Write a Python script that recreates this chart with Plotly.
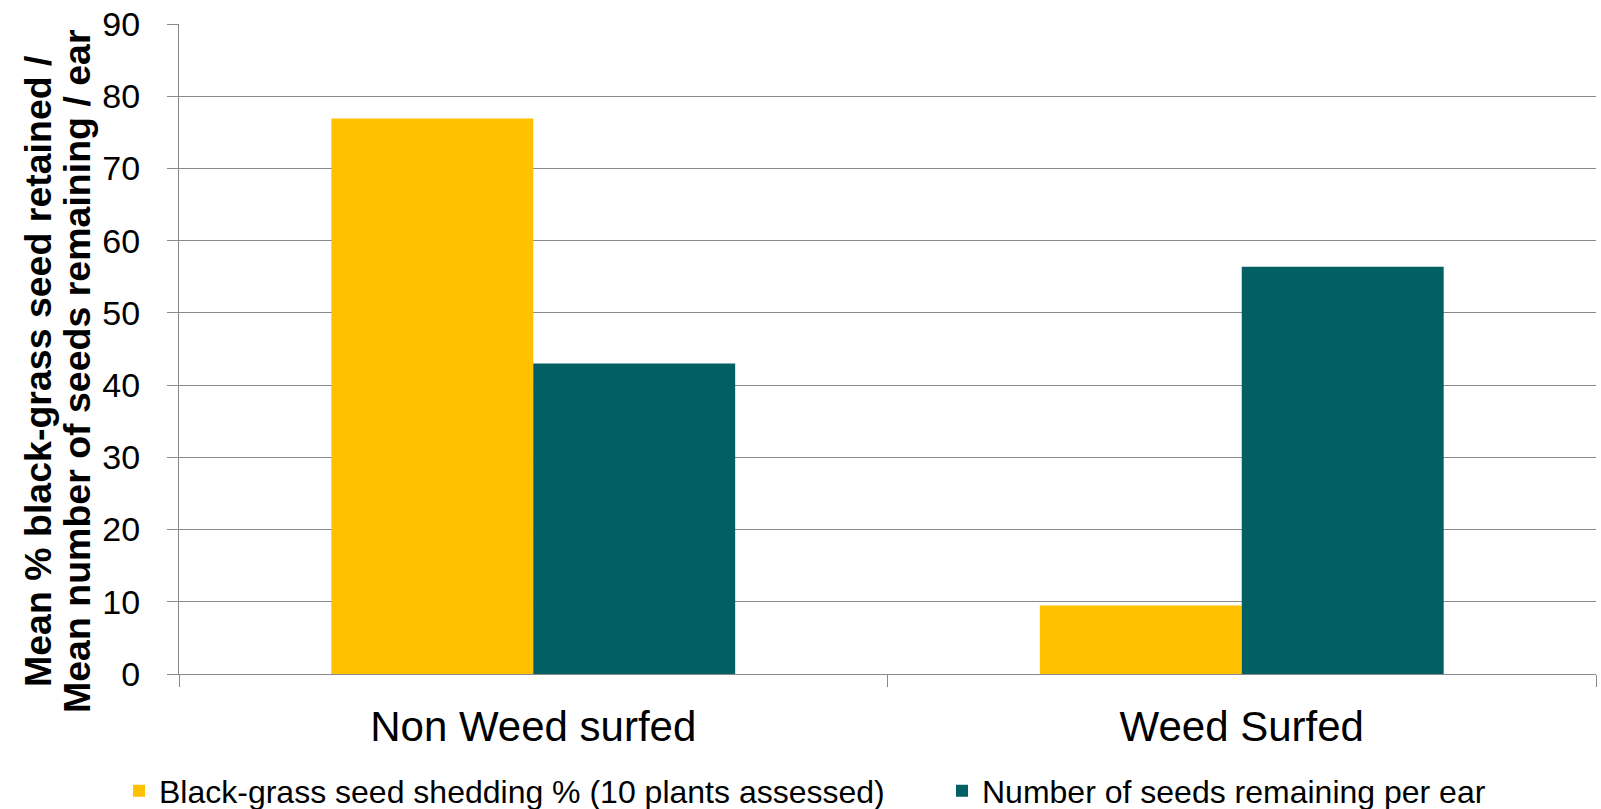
import plotly.graph_objects as go

categories = ["Non Weed surfed", "Weed Surfed"]
series_names = ["Black-grass seed shedding % (10 plants assessed)",
                "Number of seeds remaining per ear"]
shedding = [76.9, 9.5]
seeds_remaining = [43.0, 56.4]
y_ticks = [0, 10, 20, 30, 40, 50, 60, 70, 80, 90]
y_title_lines = ["Mean % black-grass seed retained /",
                 "Mean number of seeds remaining / ear"]

FONT = "Liberation Sans, Arial, sans-serif"
GRID = "#898989"

fig = go.Figure()
fig.add_trace(go.Bar(x=categories, y=shedding, name=series_names[0],
                     legendwidth=778,
                     marker=dict(color="#FFC000", line=dict(width=0))))
fig.add_trace(go.Bar(x=categories, y=seeds_remaining, name=series_names[1],
                     legendwidth=540,
                     marker=dict(color="#025F63", line=dict(width=0))))

L, R, T, B = 179, 5, 24, 135
W, H = 1601, 809
pw = W - L - R
ph = H - T - B

fig.update_layout(
    width=W, height=H,
    margin=dict(l=L, r=R, t=T, b=B, pad=0, autoexpand=False),
    paper_bgcolor="white", plot_bgcolor="white",
    barmode="group", bargap=0.43, bargroupgap=0,
    font=dict(family=FONT, color="black"),
    showlegend=True,
    legend=dict(orientation="h", x=(119 - L) / pw, xanchor="left",
                y=(674 - 791) / ph, yanchor="middle",
                font=dict(size=32, family=FONT, color="black"),
                bgcolor="rgba(0,0,0,0)", borderwidth=0, traceorder="normal"),
    xaxis=dict(showline=True, linecolor=GRID, linewidth=1.3,
               ticks="outside", tickson="boundaries", ticklen=12,
               tickcolor=GRID, tickwidth=1.3,
               tickfont=dict(size=42, family=FONT, color="black"),
               ticklabelstandoff=15,
               showgrid=False, zeroline=False),
    yaxis=dict(range=[0, 90], tickvals=y_ticks, showline=True,
               linecolor=GRID, linewidth=1.3, ticks="outside", ticklen=11,
               tickcolor=GRID, tickwidth=1.3, showgrid=True,
               gridcolor=GRID, gridwidth=1.3, zeroline=False,
               tickfont=dict(size=34, family=FONT, color="black"),
               ticklabelstandoff=20),
)

ycen = (674 - 371) / ph
for i, (txt, xp) in enumerate(zip(y_title_lines, [38, 77])):
    fig.add_annotation(text="<b>" + txt + "</b>", textangle=-90,
                       xref="paper", yref="paper",
                       x=(xp - L) / pw, y=ycen, xanchor="center", yanchor="middle",
                       showarrow=False,
                       font=dict(size=37.5, family=FONT, color="black"))

fig.write_html("out.html")
